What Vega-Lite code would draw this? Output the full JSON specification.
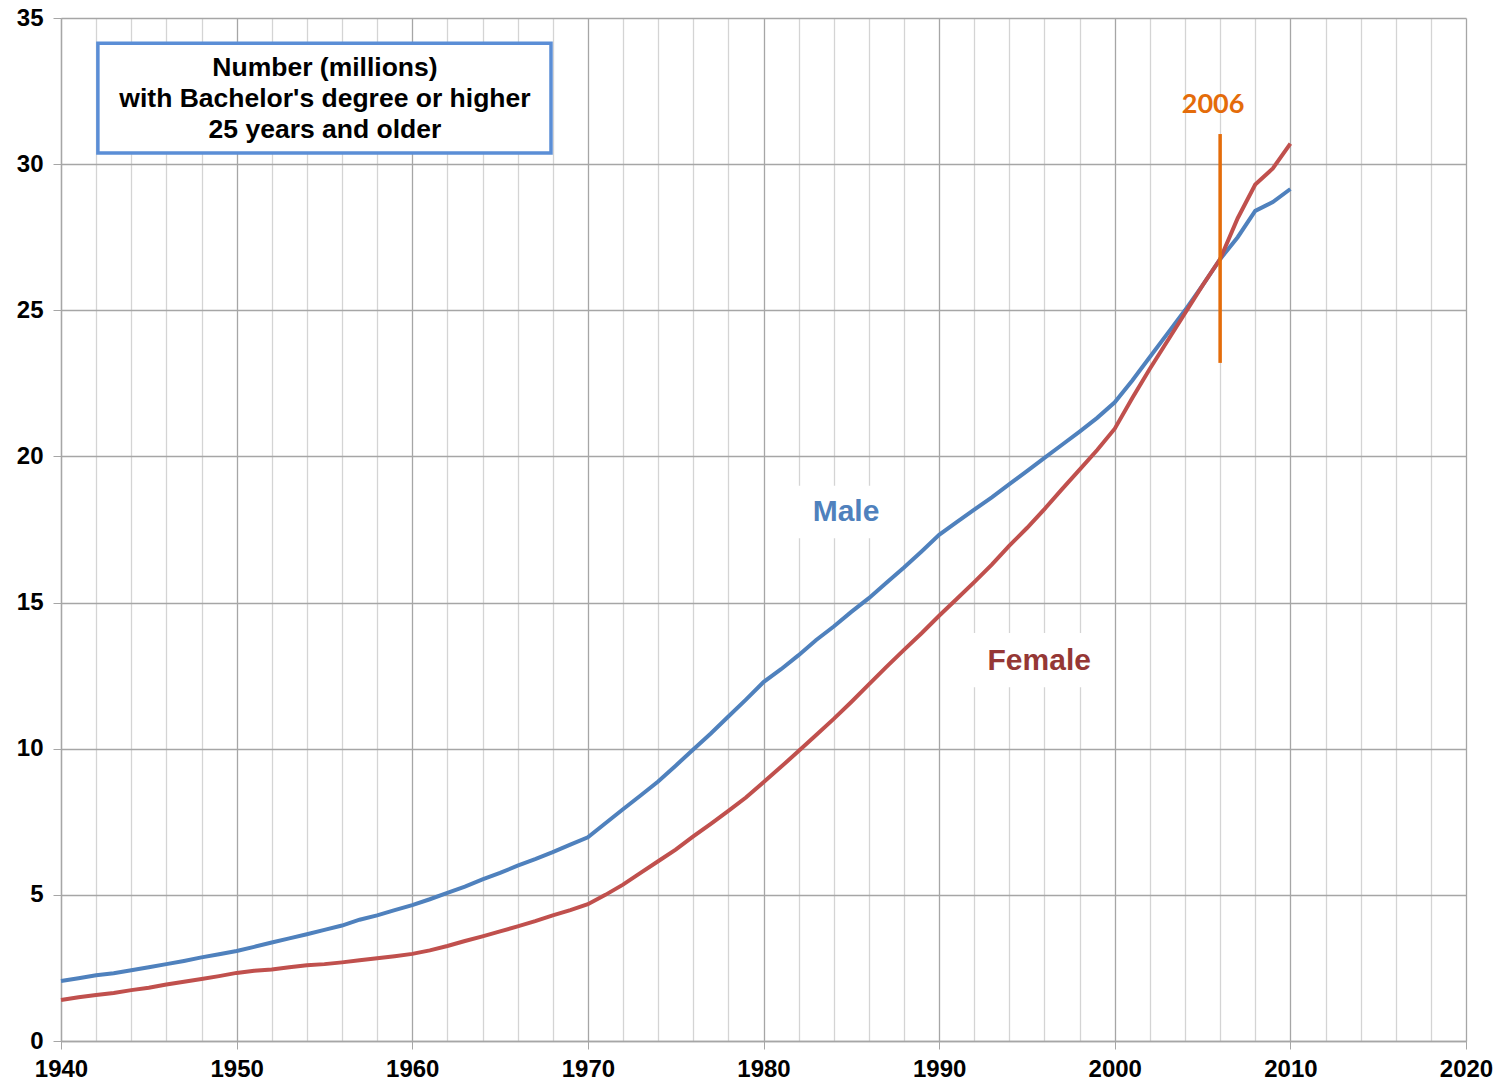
{
  "$schema": "https://vega.github.io/schema/vega-lite/v6.json",
  "width": 1405,
  "height": 1023,
  "autosize": {"type": "none"},
  "padding": {"left": 61, "top": 18, "right": 39, "bottom": 42},
  "background": "white",
  "config": {
    "view": {"stroke": null},
    "font": "Liberation Sans"
  },
  "datasets": {
    "series": [
      {"year":1940,"series":"Male","value":2.05},{"year":1941,"series":"Male","value":2.15},{"year":1942,"series":"Male","value":2.25},{"year":1943,"series":"Male","value":2.32},{"year":1944,"series":"Male","value":2.42},{"year":1945,"series":"Male","value":2.52},{"year":1946,"series":"Male","value":2.63},{"year":1947,"series":"Male","value":2.74},{"year":1948,"series":"Male","value":2.86},{"year":1949,"series":"Male","value":2.97},
      {"year":1950,"series":"Male","value":3.08},{"year":1951,"series":"Male","value":3.22},{"year":1952,"series":"Male","value":3.37},{"year":1953,"series":"Male","value":3.51},{"year":1954,"series":"Male","value":3.65},{"year":1955,"series":"Male","value":3.8},{"year":1956,"series":"Male","value":3.95},{"year":1957,"series":"Male","value":4.15},{"year":1958,"series":"Male","value":4.3},{"year":1959,"series":"Male","value":4.48},
      {"year":1960,"series":"Male","value":4.65},{"year":1961,"series":"Male","value":4.85},{"year":1962,"series":"Male","value":5.07},{"year":1963,"series":"Male","value":5.28},{"year":1964,"series":"Male","value":5.53},{"year":1965,"series":"Male","value":5.75},{"year":1966,"series":"Male","value":6.0},{"year":1967,"series":"Male","value":6.22},{"year":1968,"series":"Male","value":6.46},{"year":1969,"series":"Male","value":6.72},
      {"year":1970,"series":"Male","value":6.97},{"year":1971,"series":"Male","value":7.45},{"year":1972,"series":"Male","value":7.93},{"year":1973,"series":"Male","value":8.4},{"year":1974,"series":"Male","value":8.88},{"year":1975,"series":"Male","value":9.42},{"year":1976,"series":"Male","value":9.97},{"year":1977,"series":"Male","value":10.52},{"year":1978,"series":"Male","value":11.1},{"year":1979,"series":"Male","value":11.68},
      {"year":1980,"series":"Male","value":12.28},{"year":1981,"series":"Male","value":12.72},{"year":1982,"series":"Male","value":13.2},{"year":1983,"series":"Male","value":13.72},{"year":1984,"series":"Male","value":14.18},{"year":1985,"series":"Male","value":14.68},{"year":1986,"series":"Male","value":15.15},{"year":1987,"series":"Male","value":15.68},{"year":1988,"series":"Male","value":16.2},{"year":1989,"series":"Male","value":16.75},
      {"year":1990,"series":"Male","value":17.32},{"year":1991,"series":"Male","value":17.75},{"year":1992,"series":"Male","value":18.18},{"year":1993,"series":"Male","value":18.6},{"year":1994,"series":"Male","value":19.05},{"year":1995,"series":"Male","value":19.5},{"year":1996,"series":"Male","value":19.95},{"year":1997,"series":"Male","value":20.4},{"year":1998,"series":"Male","value":20.85},{"year":1999,"series":"Male","value":21.32},
      {"year":2000,"series":"Male","value":21.85},{"year":2001,"series":"Male","value":22.6},{"year":2002,"series":"Male","value":23.4},{"year":2003,"series":"Male","value":24.2},{"year":2004,"series":"Male","value":25.0},{"year":2005,"series":"Male","value":25.85},{"year":2006,"series":"Male","value":26.75},{"year":2007,"series":"Male","value":27.5},{"year":2008,"series":"Male","value":28.4},{"year":2009,"series":"Male","value":28.7},{"year":2010,"series":"Male","value":29.15},
      {"year":1940,"series":"Female","value":1.4},{"year":1941,"series":"Female","value":1.5},{"year":1942,"series":"Female","value":1.57},{"year":1943,"series":"Female","value":1.64},{"year":1944,"series":"Female","value":1.74},{"year":1945,"series":"Female","value":1.82},{"year":1946,"series":"Female","value":1.93},{"year":1947,"series":"Female","value":2.03},{"year":1948,"series":"Female","value":2.12},{"year":1949,"series":"Female","value":2.22},
      {"year":1950,"series":"Female","value":2.33},{"year":1951,"series":"Female","value":2.4},{"year":1952,"series":"Female","value":2.45},{"year":1953,"series":"Female","value":2.52},{"year":1954,"series":"Female","value":2.59},{"year":1955,"series":"Female","value":2.63},{"year":1956,"series":"Female","value":2.69},{"year":1957,"series":"Female","value":2.76},{"year":1958,"series":"Female","value":2.83},{"year":1959,"series":"Female","value":2.9},
      {"year":1960,"series":"Female","value":2.98},{"year":1961,"series":"Female","value":3.1},{"year":1962,"series":"Female","value":3.25},{"year":1963,"series":"Female","value":3.42},{"year":1964,"series":"Female","value":3.58},{"year":1965,"series":"Female","value":3.75},{"year":1966,"series":"Female","value":3.92},{"year":1967,"series":"Female","value":4.1},{"year":1968,"series":"Female","value":4.3},{"year":1969,"series":"Female","value":4.48},
      {"year":1970,"series":"Female","value":4.68},{"year":1971,"series":"Female","value":5.0},{"year":1972,"series":"Female","value":5.35},{"year":1973,"series":"Female","value":5.75},{"year":1974,"series":"Female","value":6.15},{"year":1975,"series":"Female","value":6.55},{"year":1976,"series":"Female","value":7.0},{"year":1977,"series":"Female","value":7.43},{"year":1978,"series":"Female","value":7.87},{"year":1979,"series":"Female","value":8.33},
      {"year":1980,"series":"Female","value":8.85},{"year":1981,"series":"Female","value":9.38},{"year":1982,"series":"Female","value":9.92},{"year":1983,"series":"Female","value":10.47},{"year":1984,"series":"Female","value":11.02},{"year":1985,"series":"Female","value":11.6},{"year":1986,"series":"Female","value":12.2},{"year":1987,"series":"Female","value":12.8},{"year":1988,"series":"Female","value":13.38},{"year":1989,"series":"Female","value":13.95},
      {"year":1990,"series":"Female","value":14.55},{"year":1991,"series":"Female","value":15.12},{"year":1992,"series":"Female","value":15.7},{"year":1993,"series":"Female","value":16.3},{"year":1994,"series":"Female","value":16.95},{"year":1995,"series":"Female","value":17.55},{"year":1996,"series":"Female","value":18.2},{"year":1997,"series":"Female","value":18.88},{"year":1998,"series":"Female","value":19.55},{"year":1999,"series":"Female","value":20.22},
      {"year":2000,"series":"Female","value":20.95},{"year":2001,"series":"Female","value":22.0},{"year":2002,"series":"Female","value":23.0},{"year":2003,"series":"Female","value":23.95},{"year":2004,"series":"Female","value":24.9},{"year":2005,"series":"Female","value":25.85},{"year":2006,"series":"Female","value":26.75},{"year":2007,"series":"Female","value":28.15},{"year":2008,"series":"Female","value":29.3},{"year":2009,"series":"Female","value":29.85},{"year":2010,"series":"Female","value":30.7}
    ],
    "titlebox": [{"x1":1942.1,"x2":1967.9,"y1":30.38,"y2":34.14,"xc":1955.03,"yc":33.29,"text":"Number (millions)\nwith Bachelor's degree or higher\n25 years and older"}],
    "labelboxes": [
      {"label":"Male","x1":1981.9,"x2":1987.5,"y1":17.2,"y2":19.0,"xc":1984.7,"yc":18.1},
      {"label":"Female","x1":1991.8,"x2":1999.6,"y1":12.1,"y2":13.96,"xc":1995.7,"yc":13.0}
    ],
    "marker": [{"year":2006,"y1":23.2,"y2":31.03,"ty":32.02,"tx":2005.6,"label":"2006"}]
  },
  "layer": [
    {
      "data": {"name": "titlebox"},
      "mark": {"type": "rect", "fill": "white", "stroke": "#5B8ED6", "strokeWidth": 3.5},
      "encoding": {
        "x": {"field": "x1", "type": "quantitative",
          "scale": {"domain": [1940, 2020], "nice": false, "zero": false},
          "axis": {
            "title": null,
            "values": [1940,1942,1944,1946,1948,1950,1952,1954,1956,1958,1960,1962,1964,1966,1968,1970,1972,1974,1976,1978,1980,1982,1984,1986,1988,1990,1992,1994,1996,1998,2000,2002,2004,2006,2008,2010,2012,2014,2016,2018,2020],
            "tickCount": 200,
            "labelExpr": "round(datum.value) % 10 == 0 ? '' + round(datum.value) : ''",
            "grid": true,
            "gridColor": {"condition": {"test": "round(datum.value) % 10 == 0", "value": "#a6a6a6"}, "value": "#d4d4d4"},
            "gridWidth": 1.3,
            "tickOpacity": {"condition": {"test": "round(datum.value) % 10 == 0", "value": 1}, "value": 0},
            "tickColor": "#a6a6a6",
            "tickSize": 8,
            "domainColor": "#a6a6a6",
            "domainWidth": 1.3,
            "labelFont": "Liberation Sans",
            "labelFontWeight": "bold",
            "labelFontSize": 24,
            "labelColor": "black",
            "labelPadding": 8,
            "labelFlush": false,
            "labelOverlap": false
          }
        },
        "x2": {"field": "x2"},
        "y": {"field": "y1", "type": "quantitative",
          "scale": {"domain": [0, 35], "nice": false},
          "axis": {
            "title": null,
            "values": [0,5,10,15,20,25,30,35],
            "format": "d",
            "grid": true,
            "gridColor": "#a6a6a6",
            "gridWidth": 1.3,
            "tickColor": "#a6a6a6",
            "tickSize": 8,
            "domainColor": "#a6a6a6",
            "domainWidth": 1.3,
            "labelFont": "Liberation Sans",
            "labelFontWeight": "bold",
            "labelFontSize": 24,
            "labelColor": "black",
            "labelPadding": 10,
            "labelFlush": false
          }
        },
        "y2": {"field": "y2"}
      }
    },
    {
      "data": {"name": "titlebox"},
      "mark": {"type": "text", "lineBreak": "\n", "lineHeight": 31, "fontSize": 26.5, "fontWeight": "bold", "font": "Liberation Sans", "color": "black", "align": "center", "baseline": "middle"},
      "encoding": {
        "x": {"field": "xc", "type": "quantitative"},
        "y": {"field": "yc", "type": "quantitative"},
        "text": {"field": "text"}
      }
    },
    {
      "data": {"name": "labelboxes"},
      "mark": {"type": "rect", "fill": "white", "strokeWidth": 0},
      "encoding": {
        "x": {"field": "x1", "type": "quantitative"},
        "x2": {"field": "x2"},
        "y": {"field": "y1", "type": "quantitative"},
        "y2": {"field": "y2"}
      }
    },
    {
      "data": {"name": "series"},
      "mark": {"type": "line", "strokeWidth": 4},
      "encoding": {
        "x": {"field": "year", "type": "quantitative"},
        "y": {"field": "value", "type": "quantitative"},
        "color": {"field": "series", "type": "nominal", "scale": {"domain": ["Male", "Female"], "range": ["#4F81BD", "#C0504D"]}, "legend": null}
      }
    },
    {
      "data": {"name": "marker"},
      "mark": {"type": "rule", "color": "#E46C0A", "strokeWidth": 3.5},
      "encoding": {
        "x": {"field": "year", "type": "quantitative"},
        "y": {"field": "y1", "type": "quantitative"},
        "y2": {"field": "y2"}
      }
    },
    {
      "data": {"name": "marker"},
      "mark": {"type": "text", "font": "Lato", "fontWeight": "bold", "fontSize": 27, "color": "#E46C0A", "align": "center", "baseline": "middle"},
      "encoding": {
        "x": {"field": "tx", "type": "quantitative"},
        "y": {"field": "ty", "type": "quantitative"},
        "text": {"field": "label"}
      }
    },
    {
      "data": {"name": "labelboxes"},
      "mark": {"type": "text", "font": "Liberation Sans", "fontWeight": "bold", "fontSize": 30, "align": "center", "baseline": "middle"},
      "encoding": {
        "x": {"field": "xc", "type": "quantitative"},
        "y": {"field": "yc", "type": "quantitative"},
        "text": {"field": "label"},
        "color": {"condition": {"test": "datum.label === 'Male'", "value": "#4F81BD"}, "value": "#953735"}
      }
    }
  ]
}
